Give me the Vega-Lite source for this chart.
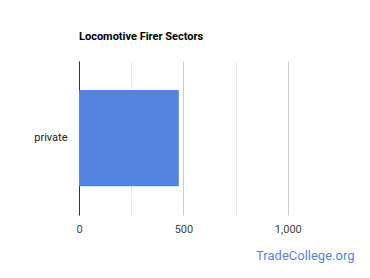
{
  "$schema": "https://vega.github.io/schema/vega-lite/v6.json",
  "width": 261,
  "height": 154,
  "autosize": "none",
  "padding": {"left": 79, "top": 61, "right": 30, "bottom": 63},
  "background": "white",
  "data": {"values": [{"sector": "private", "count": 478}]},
  "title": {
    "text": "Locomotive Firer Sectors",
    "anchor": "start",
    "frame": "group",
    "font": "Roboto",
    "fontSize": 11,
    "fontWeight": "bold",
    "color": "#000000",
    "offset": 19
  },
  "mark": {"type": "bar", "color": "#5385e0"},
  "encoding": {
    "y": {
      "field": "sector",
      "type": "nominal",
      "scale": {"paddingInner": 0, "paddingOuter": 0.3},
      "axis": {
        "title": null,
        "ticks": false,
        "domain": true,
        "domainColor": "#333333",
        "domainWidth": 1,
        "labelFont": "Roboto",
        "labelFontSize": 11,
        "labelColor": "#222222",
        "labelPadding": 12
      }
    },
    "x": {
      "field": "count",
      "type": "quantitative",
      "scale": {"domain": [0, 1250], "nice": false},
      "axis": {
        "values": [0, 250, 500, 750, 1000],
        "labelExpr": "datum.value % 500 === 0 ? datum.label : ''",
        "format": ",.0f",
        "labelFlush": false,
        "domain": false,
        "ticks": false,
        "grid": true,
        "gridColor": {"condition": {"test": "datum.value % 500 === 0", "value": "#cccccc"}, "value": "#ebebeb"},
        "labelFont": "Roboto",
        "labelFontSize": 11,
        "labelColor": "#444444",
        "labelPadding": 8,
        "title": "TradeCollege.org",
        "titleFont": "Roboto",
        "titleFontSize": 13,
        "titleFontWeight": "normal",
        "titleColor": "#5e84c9",
        "titleAlign": "right",
        "titleBaseline": "alphabetic",
        "titleX": 275,
        "titleY": 44
      }
    }
  },
  "config": {"view": {"stroke": null}}
}
